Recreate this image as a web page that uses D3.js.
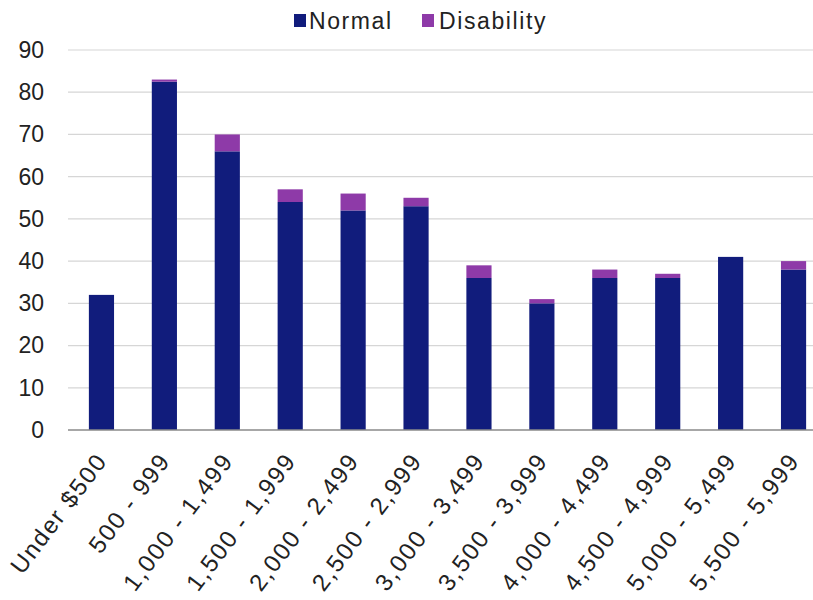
<!DOCTYPE html>
<html>
<head>
<meta charset="utf-8">
<script src="https://cdn.jsdelivr.net/npm/d3@7"></script>
<style>
  html, body { margin: 0; padding: 0; background: #fff; }
  svg { display: block; font-family: "Liberation Sans", Arial, sans-serif; }
</style>
</head>
<body>
<svg id="chart" width="813" height="600"></svg>
<script>
// Monthly income brackets
const categories = [
  "Under $500", "500 - 999", "1,000 - 1,499", "1,500 - 1,999",
  "2,000 - 2,499", "2,500 - 2,999", "3,000 - 3,499", "3,500 - 3,999",
  "4,000 - 4,499", "4,500 - 4,999", "5,000 - 5,499", "5,500 - 5,999"
];
// Counts per bracket, stacked
const normal     = [32, 82.5, 66, 54, 52, 53, 36, 30, 36, 36, 41, 38];
const disability = [0, 0.5, 4, 3, 4, 2, 3, 1, 2, 1, 0, 2];
const seriesNames = ["Normal", "Disability"];
const yTicks = [0, 10, 20, 30, 40, 50, 60, 70, 80, 90];

const colors = { Normal: "#111c7c", Disability: "#8e3aa8" };

const svg = d3.select("#chart");
const W = 813;

const x = d3.scaleBand()
  .domain(categories)
  .range([70, 825])
  .paddingInner(0.6)
  .paddingOuter(0.3);

const y = d3.scaleLinear().domain([0, 90]).range([430, 50]);

// Horizontal gridlines
svg.append("g")
  .selectAll("line")
  .data(yTicks.filter(t => t > 0))
  .join("line")
  .attr("x1", 68).attr("x2", W)
  .attr("y1", d => y(d)).attr("y2", d => y(d))
  .attr("stroke", "#d6d6d6").attr("stroke-width", 1.2);

// Y axis labels
const yAxis = d3.axisLeft(y).tickValues(yTicks).tickSize(0).tickPadding(0);
const gy = svg.append("g").attr("transform", "translate(44,0)").call(yAxis);
gy.select(".domain").remove();
gy.selectAll("text")
  .attr("font-size", 23)
  .attr("fill", "#222")
  .attr("font-family", "'Liberation Sans', Arial, sans-serif");

// Stacked bars
const rows = categories.map((c, i) => ({ cat: c, Normal: normal[i], Disability: disability[i] }));
const stacked = d3.stack().keys(seriesNames)(rows);

svg.append("g")
  .selectAll("g")
  .data(stacked)
  .join("g")
  .attr("fill", d => colors[d.key])
  .selectAll("rect")
  .data(d => d)
  .join("rect")
  .attr("x", d => x(d.data.cat))
  .attr("width", x.bandwidth())
  .attr("y", d => y(d[1]))
  .attr("height", d => y(d[0]) - y(d[1]));

// Category axis line
svg.append("line")
  .attr("x1", 68).attr("x2", W)
  .attr("y1", y(0)).attr("y2", y(0))
  .attr("stroke", "#8a8a8a").attr("stroke-width", 1.5);

// Rotated category labels
svg.append("g")
  .selectAll("text")
  .data(categories)
  .join("text")
  .attr("transform", d => `translate(${x(d) + x.bandwidth() / 2 + 7},461) rotate(-53)`)
  .attr("text-anchor", "end")
  .attr("font-size", 24)
  .attr("letter-spacing", 1.8)
  .attr("fill", "#222")
  .text(d => d);

// Legend
const legend = svg.append("g");
const legendItems = [
  { name: "Normal", sx: 294, tx: 309 },
  { name: "Disability", sx: 422, tx: 439 }
];
legendItems.forEach(it => {
  legend.append("rect")
    .attr("x", it.sx).attr("y", 14)
    .attr("width", 12).attr("height", 13)
    .attr("fill", colors[it.name]);
  legend.append("text")
    .attr("x", it.tx).attr("y", 29)
    .attr("font-size", 23)
    .attr("letter-spacing", 1.6)
    .attr("fill", "#222")
    .text(it.name);
});
</script>
</body>
</html>
